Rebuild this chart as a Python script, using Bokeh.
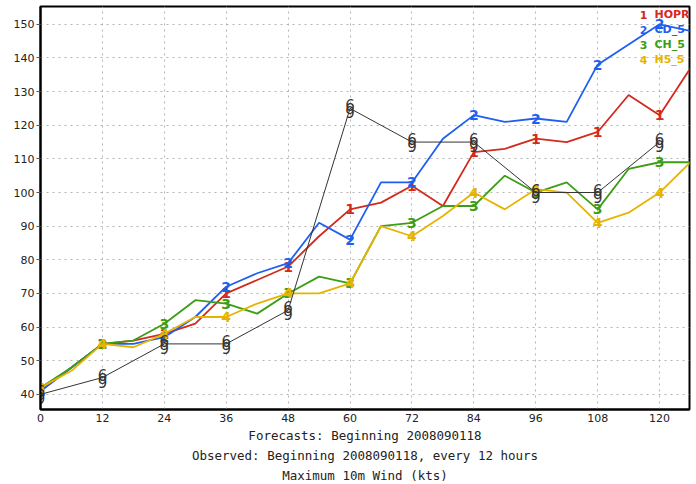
from bokeh.plotting import figure
from bokeh.models import Range1d, FixedTicker, Label, Title
from bokeh.core.properties import value
from bokeh.embed import file_html
from bokeh.resources import INLINE

# forecast hours (6-hourly vertices)
hours = [0, 6, 12, 18, 24, 30, 36, 42, 48, 54, 60, 66, 72, 78, 84, 90, 96, 102, 108, 114, 120, 126]
hopr = [41, 48, 55, 56, 58, 61, 70, 74, 78, 87, 95, 97, 102, 96, 112, 113, 116, 115, 118, 129, 123, 137]
cd_5 = [41, 48, 55, 55, 57, 63, 72, 76, 79, 91, 86, 103, 103, 116, 123, 121, 122, 121, 138, 144, 150, 148]
ch_5 = [42, 48, 55, 56, 61, 68, 67, 64, 70, 75, 73, 90, 91, 96, 96, 105, 100, 103, 95, 107, 109, 109]
h5_5 = [42, 47, 55, 54, 58, 63, 63, 67, 70, 70, 73, 90, 87, 93, 100, 95, 101, 100, 91, 94, 100, 109]

# observed, every 12 hours
obs_hours = [0, 12, 24, 36, 48, 60, 72, 84, 96, 108, 120]
observed = [40, 45, 55, 55, 65, 125, 115, 115, 100, 100, 115]

names = ["HOPR", "CD_5", "CH_5", "H5_5"]
symbols = ["1", "2", "3", "4"]
colors = ["#d42a1e", "#1f5ff0", "#3c9d16", "#e6b400"]
series = [hopr, cd_5, ch_5, h5_5]

x_ticks = list(range(0, 121, 12))
y_ticks = list(range(40, 151, 10))

FONT = "DejaVu Sans"
MONO = "DejaVu Sans Mono"

p = figure(width=696, height=484, output_backend="svg", toolbar_location=None,
           x_range=Range1d(0, 125.8), y_range=Range1d(35.5, 155.3),
           min_border_left=40, min_border_right=7, min_border_top=6, min_border_bottom=20)
p.background_fill_color = "white"
p.border_fill_color = "white"
p.outline_line_color = "black"
p.outline_line_width = 2

# grid
p.xgrid.ticker = FixedTicker(ticks=x_ticks)
p.ygrid.ticker = FixedTicker(ticks=y_ticks)
for g in (p.xgrid, p.ygrid):
    g.grid_line_color = "#b4b4b4"
    g.grid_line_dash = "2 4"
    g.grid_line_width = 1

# axes
p.xaxis.ticker = FixedTicker(ticks=x_ticks)
p.yaxis.ticker = FixedTicker(ticks=y_ticks)
p.xaxis.major_tick_out = 0
p.xaxis.major_tick_in = 0
p.xaxis.minor_tick_line_color = None
p.yaxis.minor_tick_line_color = None
p.yaxis.major_tick_out = 4
p.yaxis.major_tick_in = 0
p.xaxis.axis_line_width = 2
p.yaxis.axis_line_width = 2
p.xaxis.axis_line_color = "black"
p.yaxis.axis_line_color = "black"
p.yaxis.major_tick_line_color = "#555555"
for ax in (p.xaxis, p.yaxis):
    ax.major_label_text_font = FONT
    ax.major_label_text_font_size = "11px"
    ax.major_label_text_color = "#222222"
p.xaxis.major_label_standoff = 4
p.yaxis.major_label_standoff = 2

# forecast lines with numbered markers every 12 h
for name, sym, col, vals in zip(names, symbols, colors, series):
    p.line(hours, vals, line_color=col, line_width=1.8)
    mx = hours[::2]
    my = vals[::2]
    p.text(mx, my, text=[sym] * len(mx), text_color=col, text_align="center",
           text_baseline="middle", text_font_size="14px", text_font_style="bold",
           text_font=value(FONT))

# observed track with hurricane symbol
p.line(obs_hours, observed, line_color="#333333", line_width=1)
p.text(obs_hours, observed, text=["6"] * len(obs_hours), text_color="#333333",
       text_align="center", text_baseline="middle", text_font_size="15px",
       y_offset=-3, text_font=value(FONT))
p.text(obs_hours, observed, text=["9"] * len(obs_hours), text_color="#333333",
       text_align="center", text_baseline="middle", text_font_size="15px",
       y_offset=4, text_font=value(FONT))

# legend in the upper-right corner (screen units relative to frame)
for i, (name, sym, col) in enumerate(zip(names, symbols, colors)):
    ypos = 395 - i * 15
    p.add_layout(Label(x=603, y=ypos, x_units="screen", y_units="screen", text=sym,
                       text_color=col, text_align="center", text_baseline="middle",
                       text_font_size="11px", text_font_style="bold", text_font=FONT))
    p.add_layout(Label(x=614, y=ypos, x_units="screen", y_units="screen", text=name,
                       text_color=col, text_align="left", text_baseline="middle",
                       text_font_size="11px", text_font_style="bold", text_font=FONT))

# captions below the axis
captions = ["Forecasts: Beginning 2008090118",
            "Observed: Beginning 2008090118, every 12 hours",
            "Maximum 10m Wind (kts)"]
for c in captions:
    p.add_layout(Title(text=c, align="center", text_font=MONO, text_font_size="12.5px",
                       text_font_style="normal", text_color="#222222", standoff=3,
                       offset=0), "below")

open("out.html", "w").write(file_html(p, INLINE))
